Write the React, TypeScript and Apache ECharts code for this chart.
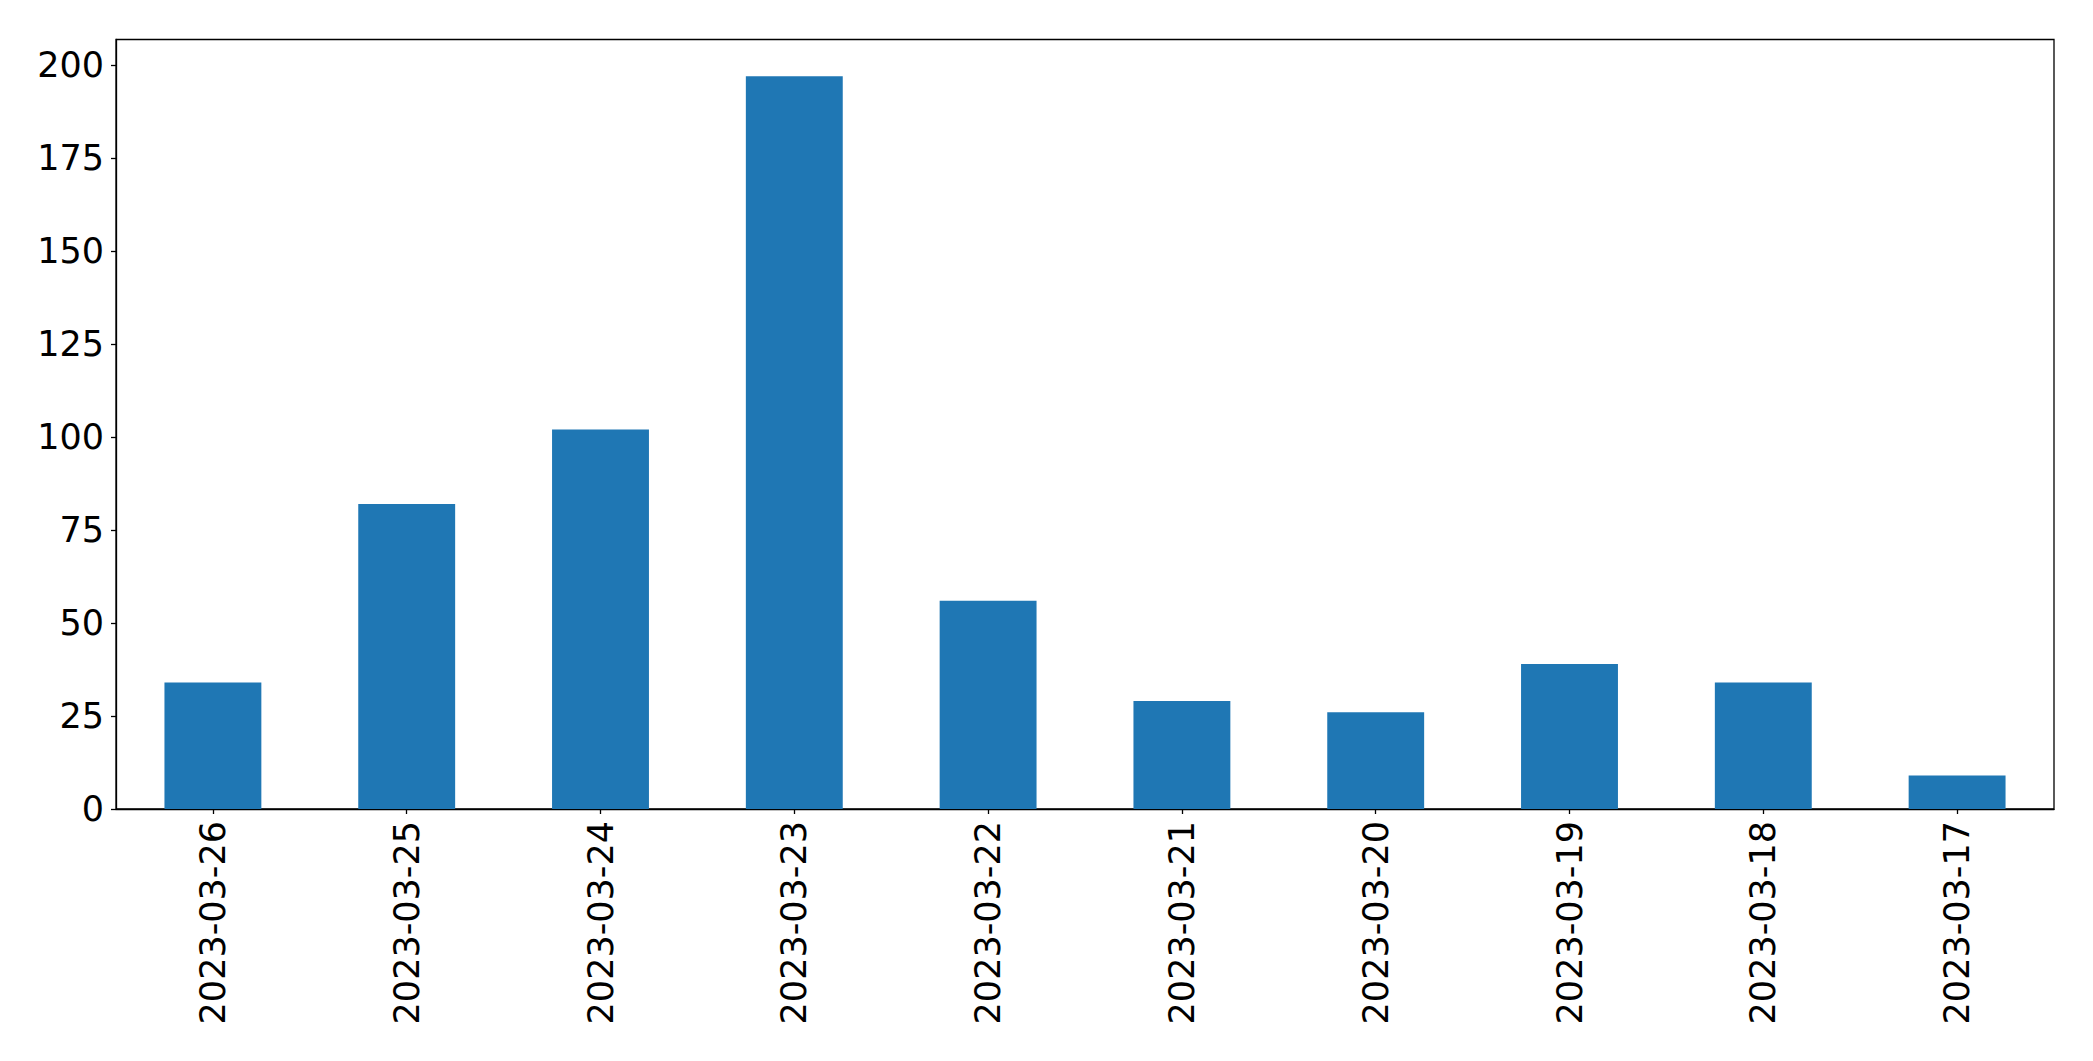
import React, { useEffect, useRef } from "react";
import * as echarts from "echarts";

const categories = [
  "2023-03-26",
  "2023-03-25",
  "2023-03-24",
  "2023-03-23",
  "2023-03-22",
  "2023-03-21",
  "2023-03-20",
  "2023-03-19",
  "2023-03-18",
  "2023-03-17",
];
const counts = [34, 82, 102, 197, 56, 29, 26, 39, 34, 9];
const yTicks = [0, 25, 50, 75, 100, 125, 150, 175, 200];
const yMax = 206.85;

export default function App() {
  const ref = useRef<HTMLDivElement>(null);
  useEffect(() => {
    if (!ref.current) return;
    const chart = echarts.init(ref.current, null, { renderer: "svg" });
    const font = "DejaVu Sans";
    chart.setOption({
      animation: false,
      backgroundColor: "#ffffff",
      grid: {
        left: 116,
        top: 39.5,
        right: 39,
        bottom: 252,
        show: true,
        borderColor: "#000000",
        borderWidth: 1.3,
        backgroundColor: "transparent",
        containLabel: false,
      },
      xAxis: {
        type: "category",
        data: categories,
        boundaryGap: true,
        axisLine: { show: true, lineStyle: { color: "#000000", width: 1.3 } },
        axisTick: { show: true, alignWithLabel: true, length: 5, lineStyle: { color: "#000000", width: 1.3 } },
        axisLabel: {
          rotate: 90,
          interval: 0,
          margin: 12,
          color: "#000000",
          fontFamily: font,
          fontSize: 35,
        },
        splitLine: { show: false },
      },
      yAxis: {
        type: "value",
        min: 0,
        max: yMax,
        axisLine: { show: true, lineStyle: { color: "#000000", width: 1.3 } },
        axisTick: {
          show: true,
          length: 5,
          customValues: yTicks,
          lineStyle: { color: "#000000", width: 1.3 },
        },
        axisLabel: {
          customValues: yTicks,
          margin: 12,
          color: "#000000",
          fontFamily: font,
          fontSize: 35,
        },
        splitLine: { show: false },
      },
      series: [
        {
          type: "bar",
          data: counts,
          barCategoryGap: "50%",
          itemStyle: { color: "#1f77b4" },
        },
      ],
    });
    return () => chart.dispose();
  }, []);
  return (
    <div
      ref={ref}
      style={{ position: "fixed", left: 0, top: 0, width: 2093, height: 1061, background: "#fff" }}
    />
  );
}
